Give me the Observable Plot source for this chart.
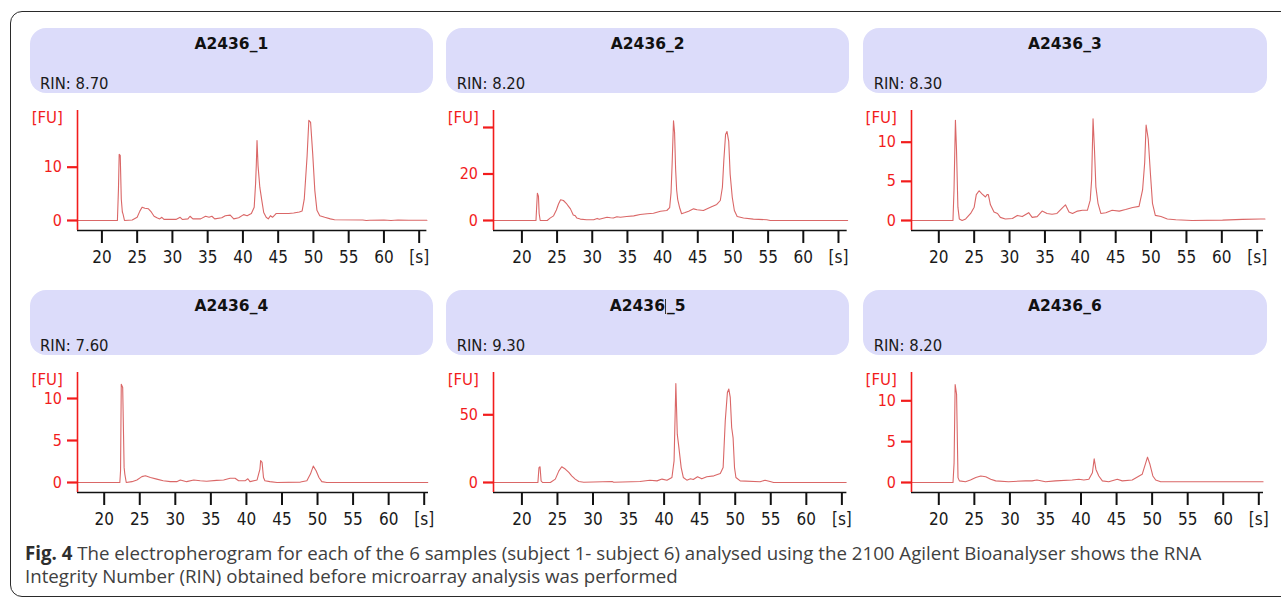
<!DOCTYPE html>
<html>
<head>
<meta charset="utf-8">
<script src="https://cdn.jsdelivr.net/npm/d3@7"></script>
<script src="https://cdn.jsdelivr.net/npm/@observablehq/plot@0.6"></script>
<style>
  html, body { margin: 0; padding: 0; background: #fff; }
  body { width: 1281px; height: 601px; overflow: hidden; position: relative; }
  #frame { position: absolute; left: 10px; top: 11px; width: 1400px; height: 586px;
           border: 1.5px solid #2a2a2a; border-radius: 12px; box-sizing: border-box; }
  .pill { position: absolute; background: #dcdcfa; border-radius: 16px; }
  .title { position: absolute; left: 0; right: 0; text-align: center; font: bold 15.5px "DejaVu Sans", sans-serif;
           line-height: 15.5px; color: #111; white-space: nowrap; }
  .rin { position: absolute; font: 16.5px "DejaVu Sans Condensed", "DejaVu Sans", sans-serif; font-stretch: condensed;
         line-height: 16.5px; color: #1a1a1a; white-space: nowrap; }
  .cursor { display: inline-block; width: 0; height: 15px; border-left: 1px solid #333; vertical-align: -3px; margin-right: 1px; }
  #caption { position: absolute; left: 25px; top: 541px; font: 18.7px "Open Sans", sans-serif; line-height: 23.3px;
             color: #404040; white-space: nowrap; }
  #caption b { color: #2e2e2e; }
  svg { position: absolute; overflow: visible; }
</style>
</head>
<body>
<div id="frame"></div>
<div id="root"></div>
<div id="caption"></div>
<script>
// ---------------- data ----------------
const samples = ["A2436_1", "A2436_2", "A2436_3", "A2436_4", "A2436_5", "A2436_6"];
const rinValues = ["8.70", "8.20", "8.30", "7.60", "9.30", "8.20"];
const xTicks = [20, 25, 30, 35, 40, 45, 50, 55, 60, 65];
const xTickLabels = ["20", "25", "30", "35", "40", "45", "50", "55", "60", "[s]"];
const yTicks = [[0, 10], [0, 20, 40], [0, 5, 10], [0, 5, 10], [0, 50], [0, 5, 10]];
const yTickLabels = [["0", "10"], ["0", "20", ""], ["0", "5", "10"], ["0", "5", "10"], ["0", "50"], ["0", "5", "10"]];
const yUnit = "[FU]";
const captionBold = "Fig. 4";
const captionLines = [
  " The electropherogram for each of the 6 samples (subject 1- subject 6) analysed using the 2100 Agilent Bioanalyser shows the RNA",
  "Integrity Number (RIN) obtained before microarray analysis was performed"
];

// traces: [time (s), fluorescence (FU)]
const trace1 = [[16.5,0],[22.2,0],[22.35,6],[22.45,12.4],[22.6,12.2],[22.75,4],[22.9,1.6],[23.0,1.2],[23.2,0],[24.3,0.1],[25.0,0.6],[25.4,1.8],[25.7,2.5],[26.1,2.3],[26.6,2.2],[27.0,1.6],[27.4,0.8],[27.8,0.5],[28.2,0.3],[28.5,0.6],[28.8,0.2],[29.5,0.2],[30.5,0.2],[31.1,0.6],[31.4,0.2],[32.2,0.3],[32.5,0.8],[32.9,0.3],[34.0,0.3],[34.7,0.8],[35.2,0.6],[35.6,0.8],[36.0,0.3],[37.0,0.5],[37.5,0.9],[38.2,1.0],[38.7,0.3],[39.4,0.5],[40.1,1.1],[40.6,0.9],[41.2,1.3],[41.6,2.5],[41.8,7],[41.9,10.5],[42.0,15.0],[42.15,10.2],[42.4,6.2],[42.7,3.6],[42.95,1.5],[43.3,0.6],[43.6,0.3],[43.9,0.9],[44.2,0.6],[44.5,1.0],[44.7,1.3],[45.5,1.3],[46.5,1.3],[47.2,1.4],[48.0,1.6],[48.4,1.8],[48.7,4],[48.85,7],[49.1,12],[49.35,18.8],[49.6,18.4],[49.9,12.5],[50.2,5.6],[50.5,1.9],[50.9,0.9],[51.6,0.6],[52.4,0.3],[53.0,0.15],[57.0,0.1],[57.5,0.0],[58,0.05],[60,0.1],[61,0.0],[62,0.1],[63.5,0.05],[66.1,0.05]];
const trace2 = [[15.9,0],[22.0,0],[22.1,6],[22.2,11.7],[22.35,10.5],[22.45,3],[22.6,0],[23.6,0],[24.0,1.0],[24.5,2.0],[24.9,4.5],[25.2,7.1],[25.5,8.9],[25.9,8.6],[26.3,7.4],[26.6,6.2],[26.9,5.0],[27.3,2.4],[27.6,2.0],[27.8,1.1],[28.3,0.6],[29.2,0.3],[30.2,0.3],[30.7,0.9],[31.0,0.5],[32.1,1.4],[32.6,1.2],[33.0,1.1],[33.5,1.6],[34.0,1.4],[34.9,1.7],[35.9,2.0],[36.8,2.6],[37.8,2.9],[38.7,3.1],[39.7,4.0],[40.6,4.3],[41.0,5.5],[41.2,12],[41.35,24],[41.55,42.9],[41.7,37.9],[41.85,22],[42.0,13],[42.15,9],[42.4,5.7],[42.7,2.9],[43.2,3.4],[43.7,4.0],[44.4,5.0],[44.9,4.6],[45.8,4.3],[46.8,5.7],[47.7,6.9],[48.2,8.6],[48.5,14.3],[48.7,25.7],[48.95,37],[49.15,38.3],[49.4,34],[49.6,20],[49.9,10],[50.2,4.3],[50.6,1.7],[51.5,1.1],[52.9,0.6],[54.8,0.3],[55.3,0],[66.3,0]];
const trace3 = [[16.1,0],[22.0,0],[22.15,3.9],[22.35,12.8],[22.5,9.1],[22.7,1.7],[22.9,0.2],[23.3,0],[23.8,0.2],[24.5,0.9],[25.0,1.7],[25.3,3.3],[25.7,3.8],[26.1,3.4],[26.6,3.0],[26.8,3.3],[27.0,3.3],[27.3,2.0],[27.8,1.1],[28.3,0.9],[28.7,0.4],[29.4,0.2],[30.4,0.25],[31.1,0.65],[31.8,0.5],[32.7,1.0],[33.2,0.4],[33.9,0.5],[34.6,1.2],[35.3,0.9],[36.0,0.8],[36.7,0.9],[37.5,1.65],[37.9,2.0],[38.4,1.1],[38.9,0.9],[39.6,1.2],[40.3,1.3],[41.0,1.3],[41.4,2.6],[41.6,5.2],[41.8,13.0],[42.0,9.1],[42.2,4.3],[42.5,2.2],[42.9,0.9],[43.6,1.0],[44.5,1.3],[45.5,1.2],[46.4,1.4],[47.4,1.65],[48.3,1.8],[48.8,3.9],[49.1,7.4],[49.3,12.2],[49.6,10.4],[49.9,6.1],[50.2,2.2],[50.6,0.65],[51.4,0.5],[52.3,0.2],[53.5,0.1],[55.8,0],[60.1,0.05],[62.9,0.15],[65.5,0.2],[66.1,0.2]];
const trace4 = [[16.2,0],[22.2,0],[22.3,1.4],[22.4,11.7],[22.6,11.3],[22.8,1.8],[22.9,1.0],[23.1,0],[23.9,0.1],[24.6,0.3],[25.3,0.7],[25.8,0.8],[26.5,0.6],[27.4,0.4],[28.3,0.2],[29.3,0.1],[30.2,0.1],[30.7,0.3],[31.6,0.1],[32.6,0.3],[33.5,0.2],[34.4,0.15],[35.8,0.25],[36.8,0.3],[37.7,0.5],[38.4,0.5],[38.9,0.2],[39.8,0.2],[40.2,0.45],[40.5,0.1],[41.5,0.3],[41.9,1.6],[42.0,2.6],[42.2,2.4],[42.4,0.6],[42.6,0.2],[43.3,0.1],[44.3,0],[47.6,0.05],[48.5,0.2],[49.0,1.0],[49.4,1.95],[49.8,1.4],[50.2,0.6],[50.6,0.1],[51.3,0],[65.5,0]];
const trace5 = [[15.9,0],[22.25,0],[22.4,11],[22.55,11.6],[22.7,1.2],[22.9,0],[24.0,0],[24.7,2.5],[25.2,8.6],[25.6,11.6],[26.1,9.9],[26.6,7.4],[27.0,4.9],[27.5,2.5],[28.0,0.7],[28.7,0.2],[32.7,0.7],[32.9,0.2],[36.6,0.7],[38.0,1.7],[39.0,1.2],[39.7,2.5],[40.4,1.7],[41.1,3.7],[41.4,16],[41.65,73],[41.85,35.7],[42.05,27],[42.4,11],[42.7,3.7],[43.2,1.7],[43.7,2.7],[44.1,2.2],[44.7,4.2],[45.3,2.7],[46.0,4.2],[47.0,4.9],[47.9,6.7],[48.3,11],[48.6,45.6],[48.9,66.5],[49.1,69],[49.3,62.8],[49.5,40.6],[49.7,33],[49.9,11],[50.1,3.7],[50.7,1.2],[53.5,0.5],[54.2,1.7],[54.9,0.7],[55.4,0],[65.6,0]];
const trace6 = [[16.1,0],[22.0,0],[22.15,2.4],[22.3,12],[22.5,10.8],[22.7,0.6],[22.9,0.2],[23.75,0.1],[24.45,0.3],[25.2,0.6],[25.9,0.8],[26.6,0.7],[27.3,0.4],[28.0,0.2],[29.8,0.1],[32.2,0.2],[33.1,0.2],[33.8,0.3],[35.0,0.1],[36.4,0.2],[38.75,0.3],[39.7,0.4],[40.4,0.3],[41.1,0.4],[41.6,1.2],[41.85,2.9],[42.1,1.6],[42.5,0.8],[43.0,0.2],[43.9,0.1],[45.1,0.4],[45.8,0.2],[47.2,0.3],[48.6,1.0],[49.1,2.4],[49.35,3.1],[49.7,2.2],[50.1,0.8],[50.5,0.3],[51.2,0.1],[65.6,0.1]];
const traces = [trace1, trace2, trace3, trace4, trace5, trace6];

// ---------------- layout (pixel calibration of each panel) ----------------
const panelLayout = [
  {axisX: 77.3,  axisEnd: 426.7, x20: 101.7, x65: 419.0,  yTop: 110,   yBot: 230,   y0: 220,   refV: 10, refPx: 166.7, pill: [30, 28.3, 402.7, 65]},
  {axisX: 493.3, axisEnd: 847.0, x20: 521.7, x65: 838.3,  yTop: 110,   yBot: 230,   y0: 220,   refV: 20, refPx: 173.5, pill: [446, 28.3, 403.3, 65]},
  {axisX: 911.0, axisEnd: 1263,  x20: 938.3, x65: 1256.7, yTop: 110,   yBot: 230,   y0: 220,   refV: 10, refPx: 141.7, pill: [863, 28.3, 403.7, 65]},
  {axisX: 77.3,  axisEnd: 428.3, x20: 104.0, x65: 424.0,  yTop: 371.7, yBot: 491.7, y0: 481.7, refV: 10, refPx: 397.7, pill: [30, 290, 402.7, 64.5]},
  {axisX: 493.3, axisEnd: 846.7, x20: 521.7, x65: 841.7,  yTop: 371.7, yBot: 491.7, y0: 481.7, refV: 50, refPx: 414.0, pill: [446, 290, 403.3, 64.5]},
  {axisX: 911.0, axisEnd: 1263,  x20: 938.3, x65: 1258.3, yTop: 371.7, yBot: 491.7, y0: 481.7, refV: 10, refPx: 400.0, pill: [863, 290, 403.7, 64.5]}
];

const RED = "#f21c1c";
const TRACE = "#da6767";
const tickFont = '"DejaVu Sans Condensed", "DejaVu Sans", sans-serif';
const root = document.getElementById("root");

panelLayout.forEach((L, i) => {
  // header pill
  const pill = document.createElement("div");
  pill.className = "pill";
  const [px, py, pw, ph] = L.pill;
  Object.assign(pill.style, {left: px + "px", top: py + "px", width: pw + "px", height: ph + "px"});
  const title = document.createElement("div");
  title.className = "title";
  title.style.top = (21.7 - 0.846 * 15.5) + "px";
  if (i === 4) {
    title.innerHTML = samples[i].slice(0, 5) + '<span class="cursor"></span>' + samples[i].slice(5);
  } else {
    title.textContent = samples[i];
  }
  pill.appendChild(title);
  const rin = document.createElement("div");
  rin.className = "rin";
  rin.style.left = (i % 3 === 0 ? 10 : 10.7) + "px";
  rin.style.top = (61.5 - 0.846 * 16.5) + "px";
  rin.textContent = "RIN: " + rinValues[i];
  pill.appendChild(rin);
  root.appendChild(pill);

  // scales calibrated to the panel geometry
  const kx = (L.x65 - L.x20) / 45;
  const xDomain = [20 - (L.x20 - L.axisX) / kx, 65 + (L.axisEnd - L.x65) / kx];
  const ky = (L.y0 - L.refPx) / L.refV;
  const yDomain = [-(L.yBot - L.y0) / ky, (L.y0 - L.yTop) / ky];
  const mL = 70, mR = 30, mT = 20, mB = 45;
  const xLab = new Map(xTicks.map((t, j) => [t, xTickLabels[j]]));
  const yLab = new Map(yTicks[i].map((t, j) => [t, yTickLabels[i][j]]));
  const data = traces[i].map(([t, v]) => ({t, v}));

  const chart = Plot.plot({
    width: mL + (L.axisEnd - L.axisX) + mR,
    height: mT + (L.yBot - L.yTop) + mB,
    marginLeft: mL, marginRight: mR, marginTop: mT, marginBottom: mB,
    x: {domain: xDomain},
    y: {domain: yDomain},
    style: {background: "transparent", overflow: "visible", fontFamily: tickFont},
    marks: [
      Plot.line(data, {x: "t", y: "v", stroke: TRACE, strokeWidth: 1.1}),
      Plot.ruleY([yDomain[0]], {stroke: "#111", strokeWidth: 1.6}),
      Plot.ruleX([xDomain[0]], {stroke: RED, strokeWidth: 1.6}),
      Plot.axisX({ticks: xTicks, tickFormat: d => xLab.get(d), label: null, tickSize: 13, tickPadding: 7.5,
                  stroke: "#111", strokeWidth: 2, fill: "#1a1a1a", fontSize: 17}),
      Plot.axisY({ticks: yTicks[i], tickFormat: d => yLab.get(d), label: null, tickSize: 10, tickPadding: 5.5,
                  stroke: RED, strokeWidth: 2.2, fill: RED, fontSize: 16}),
      Plot.text([yUnit], {text: d => d, frameAnchor: "top-left", dx: -14.6, dy: 2.2, textAnchor: "end",
                  fill: RED, fontSize: 15, fontFamily: '"DejaVu Sans", sans-serif'})
    ]
  });
  chart.style.left = (L.axisX - mL) + "px";
  chart.style.top = (L.yTop - mT) + "px";
  root.appendChild(chart);
});

// caption
const cap = document.getElementById("caption");
cap.innerHTML = "<b>" + captionBold + "</b>" + captionLines[0] + "<br>" + captionLines[1];
</script>
</body>
</html>
